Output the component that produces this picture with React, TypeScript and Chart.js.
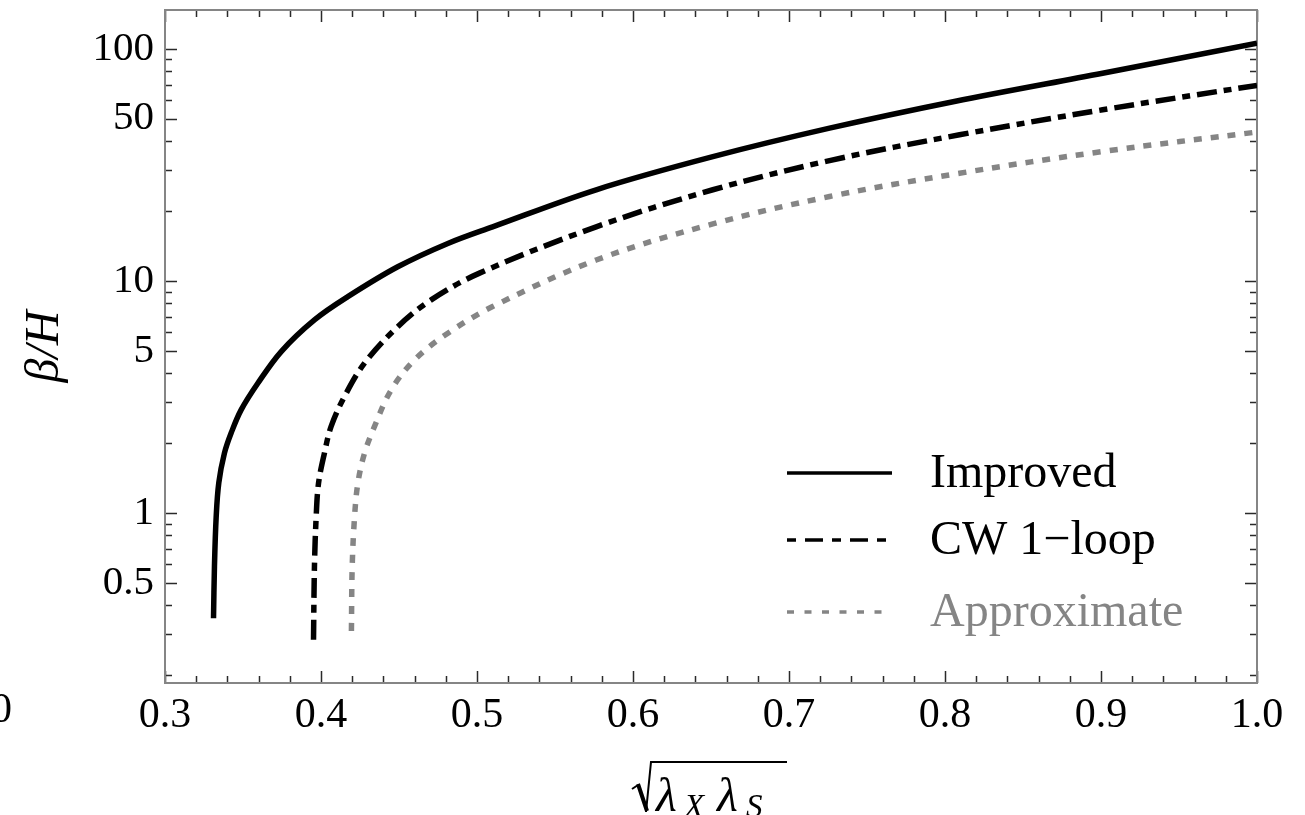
import { useEffect, useRef } from "react";
import { Chart, registerables } from "chart.js";

Chart.register(...registerables);

// β/H against sqrt(λX λS) for three treatments of the potential
const improvedX = [0.3311, 0.3317, 0.3328, 0.3345, 0.3381, 0.3424, 0.3488, 0.3595, 0.3745, 0.3958, 0.4172, 0.4492, 0.4813, 0.51, 0.5764, 0.6512, 0.726, 0.806, 0.901, 1.0];
const improvedY = [0.352, 0.587, 0.96, 1.35, 1.81, 2.21, 2.78, 3.62, 4.96, 6.79, 8.55, 11.5, 14.5, 17.1, 24.7, 34.3, 45.5, 59.3, 78.5, 105.7];

const cwX = [0.3952, 0.3958, 0.3969, 0.3984, 0.4022, 0.4065, 0.415, 0.4279, 0.4492, 0.4706, 0.5016, 0.5764, 0.6512, 0.726, 0.8093, 0.901, 1.0];
const cwY = [0.284, 0.587, 0.96, 1.34, 1.81, 2.36, 3.17, 4.42, 6.35, 8.28, 10.8, 17.1, 24.7, 33.0, 42.6, 54.6, 69.6];

const approxX = [0.4195, 0.42, 0.4215, 0.4236, 0.4279, 0.4343, 0.445, 0.46, 0.4813, 0.51, 0.5764, 0.6512, 0.726, 0.8093, 0.901, 1.0];
const approxY = [0.31, 0.587, 0.96, 1.34, 1.81, 2.36, 3.39, 4.57, 5.95, 7.75, 12.3, 17.6, 23.1, 29.1, 36.1, 43.8];

const seriesNames = ["Improved", "CW 1\u2212loop", "Approximate"];

// axis ranges and tick marks
const xMin = 0.3;
const xMax = 1.0;
const xTickStep = 0.02;
const xTickLabels = ["0.3", "0.4", "0.5", "0.6", "0.7", "0.8", "0.9", "1.0"];
const yMin = 0.185;
const yMax = 147;
const yDecades = [0.1, 1, 10, 100];
const yMantissas = [1, 2, 3, 4, 5, 6, 7, 8, 9];
const yTickLabels = ["0.5", "1", "5", "10", "50", "100"];

const SERIF = '"Liberation Serif", "Times New Roman", serif';
const GRAY = "#858585";

const toPoints = (xs: number[], ys: number[]) => xs.map((x, i) => ({ x, y: ys[i] }));

const xTickValues = (() => {
  const out: number[] = [];
  const n = Math.round((xMax - xMin) / xTickStep);
  for (let i = 0; i <= n; i++) out.push(Math.round((xMin + i * xTickStep) * 100) / 100);
  return out;
})();

const yTickValues = (() => {
  const out: number[] = [];
  yDecades.forEach((d) =>
    yMantissas.forEach((m) => {
      const v = parseFloat((d * m).toPrecision(6));
      if (v >= yMin && v <= yMax) out.push(v);
    })
  );
  return out;
})();

const xLabelFor = (v: number) => {
  const s = v.toFixed(1);
  return Math.abs(v * 10 - Math.round(v * 10)) < 1e-6 && xTickLabels.includes(s) ? s : "";
};
const yLabelFor = (v: number) => {
  const hit = yTickLabels.find((l) => Math.abs(parseFloat(l) - v) < 1e-9);
  return hit ?? "";
};

// frame with inward tick marks on all four sides
const frameTicks = {
  id: "frameTicks",
  beforeDatasetsDraw(chart: any) {
    const { ctx, chartArea, scales } = chart;
    const { left, right, top, bottom } = chartArea;
    ctx.save();
    ctx.strokeStyle = "#2a2a2a";
    ctx.lineWidth = 1.5;
    ctx.beginPath();
    scales.x.ticks.forEach((t: any) => {
      const px = Math.round(scales.x.getPixelForValue(t.value)) + 0.5;
      const len = xLabelFor(t.value) ? 12 : 7;
      ctx.moveTo(px, bottom);
      ctx.lineTo(px, bottom - len);
      ctx.moveTo(px, top);
      ctx.lineTo(px, top + len);
    });
    scales.y.ticks.forEach((t: any) => {
      const py = Math.round(scales.y.getPixelForValue(t.value)) + 0.5;
      const len = yLabelFor(t.value) ? 12 : 7;
      ctx.moveTo(left, py);
      ctx.lineTo(left + len, py);
      ctx.moveTo(right, py);
      ctx.lineTo(right - len, py);
    });
    ctx.stroke();
    ctx.strokeStyle = GRAY;
    ctx.lineWidth = 2;
    ctx.strokeRect(left, top, right - left, bottom - top);
    ctx.restore();
  },
};

// legend in the lower right of the plot
const legendBox = {
  id: "legendBox",
  afterDatasetsDraw(chart: any) {
    const { ctx } = chart;
    const rows = [
      { y: 473, color: "#000", dash: [] as number[], text: seriesNames[0] },
      { y: 540, color: "#000", dash: [9, 9, 18, 9], text: seriesNames[1] },
      { y: 612, color: GRAY, dash: [7, 10.5], text: seriesNames[2] },
    ];
    ctx.save();
    rows.forEach((r) => {
      ctx.strokeStyle = r.color;
      ctx.lineWidth = 3.5;
      ctx.setLineDash(r.dash);
      ctx.beginPath();
      ctx.moveTo(787, r.y);
      ctx.lineTo(892, r.y);
      ctx.stroke();
      ctx.setLineDash([]);
      ctx.fillStyle = r.color;
      ctx.font = `48px ${SERIF}`;
      ctx.textAlign = "left";
      ctx.textBaseline = "alphabetic";
      ctx.fillText(r.text, 930, r.y + 14);
    });
    ctx.restore();
  },
};

// axis titles: β/H rotated on the left, sqrt(λX λS) below
const axisTitles = {
  id: "axisTitles",
  afterDraw(chart: any) {
    const { ctx, chartArea } = chart;
    ctx.save();
    ctx.fillStyle = "#000";
    // y title
    ctx.translate(45, (chartArea.top + chartArea.bottom) / 2);
    ctx.rotate(-Math.PI / 2);
    ctx.font = `italic 48px ${SERIF}`;
    ctx.textAlign = "center";
    ctx.textBaseline = "middle";
    ctx.fillText("\u03b2/H", 0, 0);
    ctx.restore();

    ctx.save();
    ctx.fillStyle = "#000";
    ctx.strokeStyle = "#000";
    ctx.lineCap = "butt";
    ctx.lineJoin = "miter";
    // radical sign
    ctx.lineWidth = 2;
    ctx.beginPath();
    ctx.moveTo(632, 789);
    ctx.lineTo(638, 785);
    ctx.stroke();
    ctx.lineWidth = 4;
    ctx.beginPath();
    ctx.moveTo(638, 784);
    ctx.lineTo(647, 811);
    ctx.stroke();
    ctx.lineWidth = 2;
    ctx.beginPath();
    ctx.moveTo(646, 812);
    ctx.lineTo(651, 762);
    ctx.lineTo(787, 762);
    ctx.stroke();
    // λX λS
    ctx.textAlign = "left";
    ctx.textBaseline = "alphabetic";
    ctx.font = `italic 48px ${SERIF}`;
    ctx.fillText("\u03bb", 656, 811);
    ctx.font = `italic 33px ${SERIF}`;
    ctx.fillText("X", 684, 817);
    ctx.font = `italic 48px ${SERIF}`;
    ctx.fillText("\u03bb", 717, 811);
    ctx.font = `italic 33px ${SERIF}`;
    ctx.fillText("S", 746, 817);
    // partly visible label at the left edge
    ctx.font = `42px ${SERIF}`;
    ctx.textAlign = "right";
    ctx.fillText("0", 12, 722);
    ctx.restore();
  },
};

export default function App() {
  const ref = useRef<HTMLCanvasElement | null>(null);

  useEffect(() => {
    document.body.style.margin = "0";
    const canvas = ref.current;
    if (!canvas) return;
    const chart = new Chart(canvas, {
      type: "line",
      data: {
        datasets: [
          {
            label: seriesNames[0],
            data: toPoints(improvedX, improvedY),
            borderColor: "#000",
            borderWidth: 5.5,
            pointRadius: 0,
            tension: 0.35,
          },
          {
            label: seriesNames[1],
            data: toPoints(cwX, cwY),
            borderColor: "#000",
            borderWidth: 5.5,
            borderDash: [20, 7, 8, 7],
            pointRadius: 0,
            tension: 0.35,
          },
          {
            label: seriesNames[2],
            data: toPoints(approxX, approxY),
            borderColor: GRAY,
            borderWidth: 5.5,
            borderDash: [8, 9],
            pointRadius: 0,
            tension: 0.35,
          },
        ],
      },
      options: {
        animation: false,
        responsive: false,
        devicePixelRatio: 1,
        layout: { padding: { top: 10, right: 48, left: 0, bottom: 0 } },
        plugins: { legend: { display: false }, tooltip: { enabled: false } },
        scales: {
          x: {
            type: "linear",
            min: xMin,
            max: xMax,
            grid: { display: false, drawTicks: false },
            border: { display: false },
            afterBuildTicks: (s: any) => {
              s.ticks = xTickValues.map((v) => ({ value: v }));
            },
            afterFit: (s: any) => {
              s.height = 132;
              s.paddingLeft = 0;
              s.paddingRight = 0;
            },
            ticks: {
              autoSkip: false,
              maxRotation: 0,
              padding: 8,
              color: "#000",
              font: { family: SERIF, size: 42 },
              callback: (v: any) => xLabelFor(Number(v)),
            },
          },
          y: {
            type: "logarithmic",
            min: yMin,
            max: yMax,
            grid: { display: false, drawTicks: false },
            border: { display: false },
            afterBuildTicks: (s: any) => {
              s.ticks = yTickValues.map((v) => ({ value: v }));
            },
            afterFit: (s: any) => {
              s.width = 165;
              s.paddingTop = 0;
              s.paddingBottom = 0;
            },
            ticks: {
              autoSkip: false,
              padding: 11,
              color: "#000",
              font: { family: SERIF, size: 41 },
              callback: (v: any) => yLabelFor(Number(v)),
            },
          },
        },
      },
      plugins: [frameTicks, legendBox, axisTitles],
    });
    return () => chart.destroy();
  }, []);

  return <canvas ref={ref} width={1305} height={815} style={{ display: "block" }} />;
}
